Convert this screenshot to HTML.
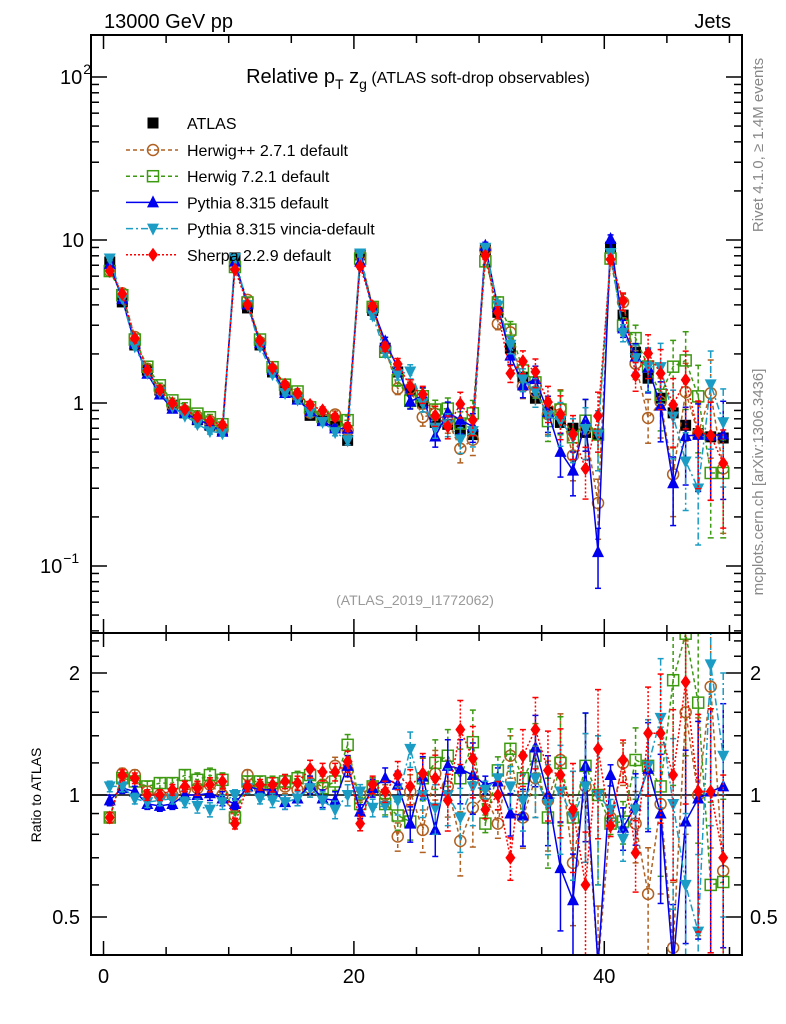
<!DOCTYPE html>
<html><head><meta charset="utf-8"><style>
html,body{margin:0;padding:0;background:#fff;width:786px;height:1024px;overflow:hidden;}
svg{display:block;font-family:"Liberation Sans",sans-serif;}
</style></head><body>
<svg id="chart" width="786" height="1024" viewBox="0 0 786 1024" xmlns="http://www.w3.org/2000/svg">
<defs>
<clipPath id="clipMain"><rect x="91" y="35" width="651" height="598"/></clipPath>
<clipPath id="clipRatio"><rect x="91" y="633" width="651" height="322"/></clipPath>
</defs>
<text x="104" y="28" font-size="20">13000 GeV pp</text>
<text x="731" y="28" font-size="20" text-anchor="end">Jets</text>
<text x="418" y="83" font-size="20" text-anchor="middle">Relative p<tspan font-size="14" dy="6">T</tspan><tspan dy="-6"> z</tspan><tspan font-size="14" dy="6">g</tspan><tspan font-size="16" dy="-6"> (ATLAS soft-drop observables)</tspan></text>
<text x="415" y="605" font-size="14" fill="#999" text-anchor="middle">(ATLAS_2019_I1772062)</text>
<text transform="translate(763,145) rotate(-90)" font-size="15" fill="#888" text-anchor="middle">Rivet 4.1.0, ≥ 1.4M events</text>
<text transform="translate(763,482) rotate(-90)" font-size="15" fill="#888" text-anchor="middle">mcplots.cern.ch [arXiv:1306.3436]</text>
<text transform="translate(41,795) rotate(-90)" font-size="14" text-anchor="middle">Ratio to ATLAS</text>
<g id="axes"></g>
<g id="mainMarks" clip-path="url(#clipMain)"></g>
<g id="ratioMarks" clip-path="url(#clipRatio)"></g>
<g id="legend"></g>
<rect x="91" y="35" width="651" height="598" fill="none" stroke="#000" stroke-width="2"/>
<rect x="91" y="633" width="651" height="322" fill="none" stroke="#000" stroke-width="2"/>
</svg>
<script>
const atlas=[7.33,4.17,2.27,1.59,1.20,0.97,0.87,0.79,0.73,0.68, 7.76,3.83,2.27,1.55,1.20,1.07,0.84,0.79,0.72,0.59, 8.1,3.7,2.17,1.55,1.2,1.0,0.76,0.74,0.68,0.64, 8.7,3.6,2.17,1.44,1.07,0.88,0.76,0.70,0.66,0.64, 9.05,3.46,2.05,1.42,1.07,0.87,0.73,0.65,0.62,0.61];
const atlasErr=[0.02,0.02,0.02,0.02,0.02,0.02,0.02,0.02,0.02,0.03, 0.02,0.02,0.02,0.02,0.02,0.02,0.02,0.03,0.03,0.03, 0.02,0.02,0.03,0.03,0.03,0.03,0.03,0.04,0.04,0.04, 0.03,0.03,0.03,0.04,0.04,0.04,0.05,0.05,0.05,0.06, 0.03,0.04,0.05,0.06,0.06,0.07,0.08,0.08,0.09,0.1];
const mcErr=[0.03,0.03,0.03,0.03,0.03,0.03,0.03,0.04,0.04,0.04, 0.03,0.03,0.03,0.04,0.04,0.04,0.05,0.05,0.05,0.06, 0.04,0.05,0.06,0.08,0.1,0.12,0.14,0.16,0.18,0.2, 0.05,0.08,0.12,0.16,0.2,0.25,0.3,0.3,0.35,0.4, 0.06,0.12,0.2,0.3,0.4,0.45,0.5,0.55,0.6,0.6];
const herwigpp=[0.88,1.13,1.12,1.02,1.0,1.0,1.03,1.04,1.06,1.0, 0.89,1.12,1.04,1.03,1.05,1.03,1.04,1.06,1.18,1.15, 1.0,1.05,1.0,0.79,1.02,0.82,1.13,1.05,0.77,0.93, 1.0,0.85,1.25,0.88,1.1,0.97,1.22,0.68,1.05,0.38, 0.88,1.2,0.85,0.57,0.95,0.42,1.6,1.0,1.85,0.65];
const herwig7=[0.88,1.1,1.08,1.05,1.07,1.07,1.12,1.09,1.12,1.09, 0.88,1.08,1.08,1.07,1.08,1.10,1.12,1.04,1.08,1.33, 0.95,1.05,0.95,0.89,0.86,1.1,1.2,1.25,1.1,1.35, 0.85,1.15,1.3,1.1,1.25,0.88,1.2,0.88,1.18,1.0, 0.85,0.86,1.22,1.18,1.05,1.92,2.5,1.69,0.6,0.61];
const pythia=[0.97,1.04,1.02,0.95,0.94,0.95,1.0,1.0,1.01,0.98, 0.95,1.05,1.03,1.03,0.96,0.98,1.06,0.98,0.97,1.18, 0.91,1.04,1.1,1.06,0.85,1.11,0.82,1.18,1.16,1.12, 1.06,1.08,0.9,0.89,1.31,1.0,0.66,0.55,1.18,0.19, 1.12,0.83,0.94,1.16,0.9,0.37,0.86,0.98,1.02,1.05];
const vincia=[1.05,1.05,0.98,0.96,0.97,0.98,0.96,0.94,0.92,0.96, 1.0,1.04,0.98,0.97,0.96,0.98,1.04,0.97,0.92,1.0, 1.02,0.93,0.94,0.97,1.3,1.0,0.93,1.0,0.88,1.05, 1.03,1.1,1.05,0.97,1.1,0.95,1.02,0.88,1.05,1.0, 0.92,0.78,0.92,1.18,1.55,0.95,0.6,0.46,2.1,1.25];
const sherpa=[0.88,1.12,1.1,1.0,1.0,1.03,1.05,1.04,1.06,1.08, 0.85,1.05,1.06,1.06,1.08,1.07,1.16,1.14,1.14,1.21, 0.85,1.06,1.02,1.12,1.05,1.13,1.1,0.97,1.45,1.23, 0.92,1.0,0.7,1.25,1.45,1.15,1.12,0.92,0.6,1.3, 0.84,1.22,0.72,1.42,1.42,1.12,1.9,1.02,1.02,0.7];
const xTicks=[0,20,40];
const ratioTicks=[0.5,1,2];

const NS="http://www.w3.org/2000/svg";
const X0=91,X1=742,XMIN=-1,XMAX=51;
function clamp(y,a,b){return Math.min(b,Math.max(a,y));}
function xs(v){return X0+(v-XMIN)/(XMAX-XMIN)*(X1-X0);}
function ys(v){return clamp(403-163*Math.log10(v),25,643);}
function yr(r){return clamp(795-122*Math.log2(r),623,965);}
function mk(tag,attrs,parent){const e=document.createElementNS(NS,tag);for(const k in attrs)e.setAttribute(k,attrs[k]);parent.appendChild(e);return e;}
const axes=document.getElementById('axes');
for(let v=0;v<=50;v+=5){
  const x=xs(v),big=(v%20===0);
  const l=big?14:8;
  for(const [yb,dir] of [[633,-1],[35,1],[955,-1],[633,1]]){
    const t=mk('line',{x1:x,x2:x,y1:yb,y2:yb+dir*l,stroke:'#000','stroke-width':1.5},axes);
    
    
  }
}
xTicks.forEach(v=>{
  const t=mk('text',{x:xs(v),y:983,'font-size':20,'text-anchor':'middle'},axes);
  t.textContent=String(v);
  
  
});
for(let d=-2;d<=2;d++){
  for(let m=1;m<=9;m++){
    const v=m*Math.pow(10,d);const y=403-163*Math.log10(v);
    if(y<35||y>633)continue;
    const l=m===1?16:8;
    const a=mk('line',{x1:X0,x2:X0+l,y1:y,y2:y,stroke:'#000','stroke-width':1.5},axes);
    
    
    const b=mk('line',{x1:X1,x2:X1-l,y1:y,y2:y,stroke:'#000','stroke-width':1.5},axes);
    
    
  }
}
const ylab=[[2,'10','2',60],[1,'10','',84],[0,'1','',84],[-1,'10','−1',40]];
ylab.forEach(([d,base,sup,x])=>{
  const t=mk('text',{x:x,y:ys(Math.pow(10,d))+7,'font-size':20,'text-anchor':sup?'start':'end'},axes);
  
  
  t.textContent=base;
  if(sup){const s=mk('tspan',{dy:-10,dx:1,'font-size':14},t);s.textContent=sup;}
});
[0.4,0.5,0.6,0.7,0.8,0.9,1,2,3].concat([1.2,1.4,1.6,1.8,2.2,2.4]).forEach(v=>{
  const y=795-122*Math.log2(v);if(y<633||y>955)return;
  const big=ratioTicks.includes(v);const l=big?16:8;
  const a=mk('line',{x1:X0,x2:X0+l,y1:y,y2:y,stroke:'#000','stroke-width':1.5},axes);
  
  
  const b=mk('line',{x1:X1,x2:X1-l,y1:y,y2:y,stroke:'#000','stroke-width':1.5},axes);
  
  
});
ratioTicks.forEach(v=>{
  const t=mk('text',{x:80,y:yr(v)+7,'font-size':20,'text-anchor':'end'},axes);
  t.textContent=String(v);
  
  
  const t2=mk('text',{x:750,y:yr(v)+7,'font-size':20,'text-anchor':'start'},axes);
  t2.textContent=String(v);
  
  
});
const unity=mk('line',{x1:X0,x2:X1,y1:yr(1),y2:yr(1),stroke:'#000','stroke-width':1.5},document.getElementById('ratioMarks'));



function marker(g,type,x,y,color){
  let e;
  if(type==='square') e=mk('rect',{x:x-5.5,y:y-5.5,width:11,height:11,fill:'#000'},g);
  else if(type==='circle') e=mk('circle',{cx:x,cy:y,r:5.5,fill:'none',stroke:color,'stroke-width':1.5},g);
  else if(type==='osquare') e=mk('rect',{x:x-5.5,y:y-5.5,width:11,height:11,fill:'none',stroke:color,'stroke-width':1.5},g);
  else if(type==='up') e=mk('polygon',{points:`${x},${y-7} ${x-6},${y+5} ${x+6},${y+5}`,fill:color},g);
  else if(type==='down') e=mk('polygon',{points:`${x},${y+7} ${x-6},${y-5} ${x+6},${y-5}`,fill:color},g);
  else if(type==='diamond') e=mk('polygon',{points:`${x},${y-7} ${x-5},${y} ${x},${y+7} ${x+5},${y}`,fill:color},g);
  return e;
}
const series=[
 {name:'herwigpp',label:'Herwig++ 2.7.1 default',r:herwigpp,color:'#b06020',dash:'4,3',m:'circle'},
 {name:'herwig7',label:'Herwig 7.2.1 default',r:herwig7,color:'#3c9a10',dash:'4,3',m:'osquare'},
 {name:'pythia',label:'Pythia 8.315 default',r:pythia,color:'#0000ee',dash:'',m:'up'},
 {name:'vincia',label:'Pythia 8.315 vincia-default',r:vincia,color:'#1a9cc4',dash:'7,3,2,3',m:'down'},
 {name:'sherpa',label:'Sherpa 2.2.9 default',r:sherpa,color:'#ff0000',dash:'2,2',m:'diamond'}
];
const main=document.getElementById('mainMarks'),ratio=document.getElementById('ratioMarks');
const ag=mk('g',{},main);


atlas.forEach((v,i)=>{
  const x=xs(i+0.5);
  mk('line',{x1:x,x2:x,y1:ys(v*(1+atlasErr[i])),y2:ys(v*(1-atlasErr[i])),stroke:'#000','stroke-width':1.5},ag);
  const p=marker(ag,'square',x,ys(v));
  
  
});
series.forEach(s=>{
  [[main,false],[ratio,true]].forEach(([par,isR])=>{
    const g=mk('g',{},par);
    
    
    const pts=s.r.map((r,i)=>{const v=atlas[i]*r;return [xs(i+0.5),isR?yr(r):ys(v)];});
    const pl=mk('polyline',{points:pts.map(p=>p.join(',')).join(' '),fill:'none',stroke:s.color,'stroke-width':1.5,'stroke-dasharray':s.dash},g);
    
    
    s.r.forEach((r,i)=>{
      const e=mcErr[i];const x=xs(i+0.5);
      const base=isR?r:atlas[i]*r;const f=isR?yr:ys;
      const lo=Math.max(base*(1-e),1e-4),hi=base*(1+e);
      mk('line',{x1:x,x2:x,y1:f(hi),y2:f(lo),stroke:s.color,'stroke-width':1.5,'stroke-dasharray':s.dash},g);
      mk('line',{x1:x-3,x2:x+3,y1:f(hi),y2:f(hi),stroke:s.color,'stroke-width':1.5},g);
      mk('line',{x1:x-3,x2:x+3,y1:f(lo),y2:f(lo),stroke:s.color,'stroke-width':1.5},g);
      const p=marker(g,s.m,x,f(base),s.color);
      
      
    });
  });
});
const lg=document.getElementById('legend');
const la=marker(lg,'square',153,123);


const lt=mk('text',{x:187,y:129,'font-size':16},lg);lt.textContent='ATLAS';


series.forEach((s,k)=>{
  const y=150+k*26.2;
  const ln=mk('line',{x1:126,x2:178,y1:y,y2:y,stroke:s.color,'stroke-width':1.5,'stroke-dasharray':s.dash},lg);
  
  
  const mm=marker(lg,s.m,153,y,s.color);
  
  
  const t=mk('text',{x:187,y:y+6,'font-size':16},lg);t.textContent=s.label;
  
  
});
</script>
</body></html>
